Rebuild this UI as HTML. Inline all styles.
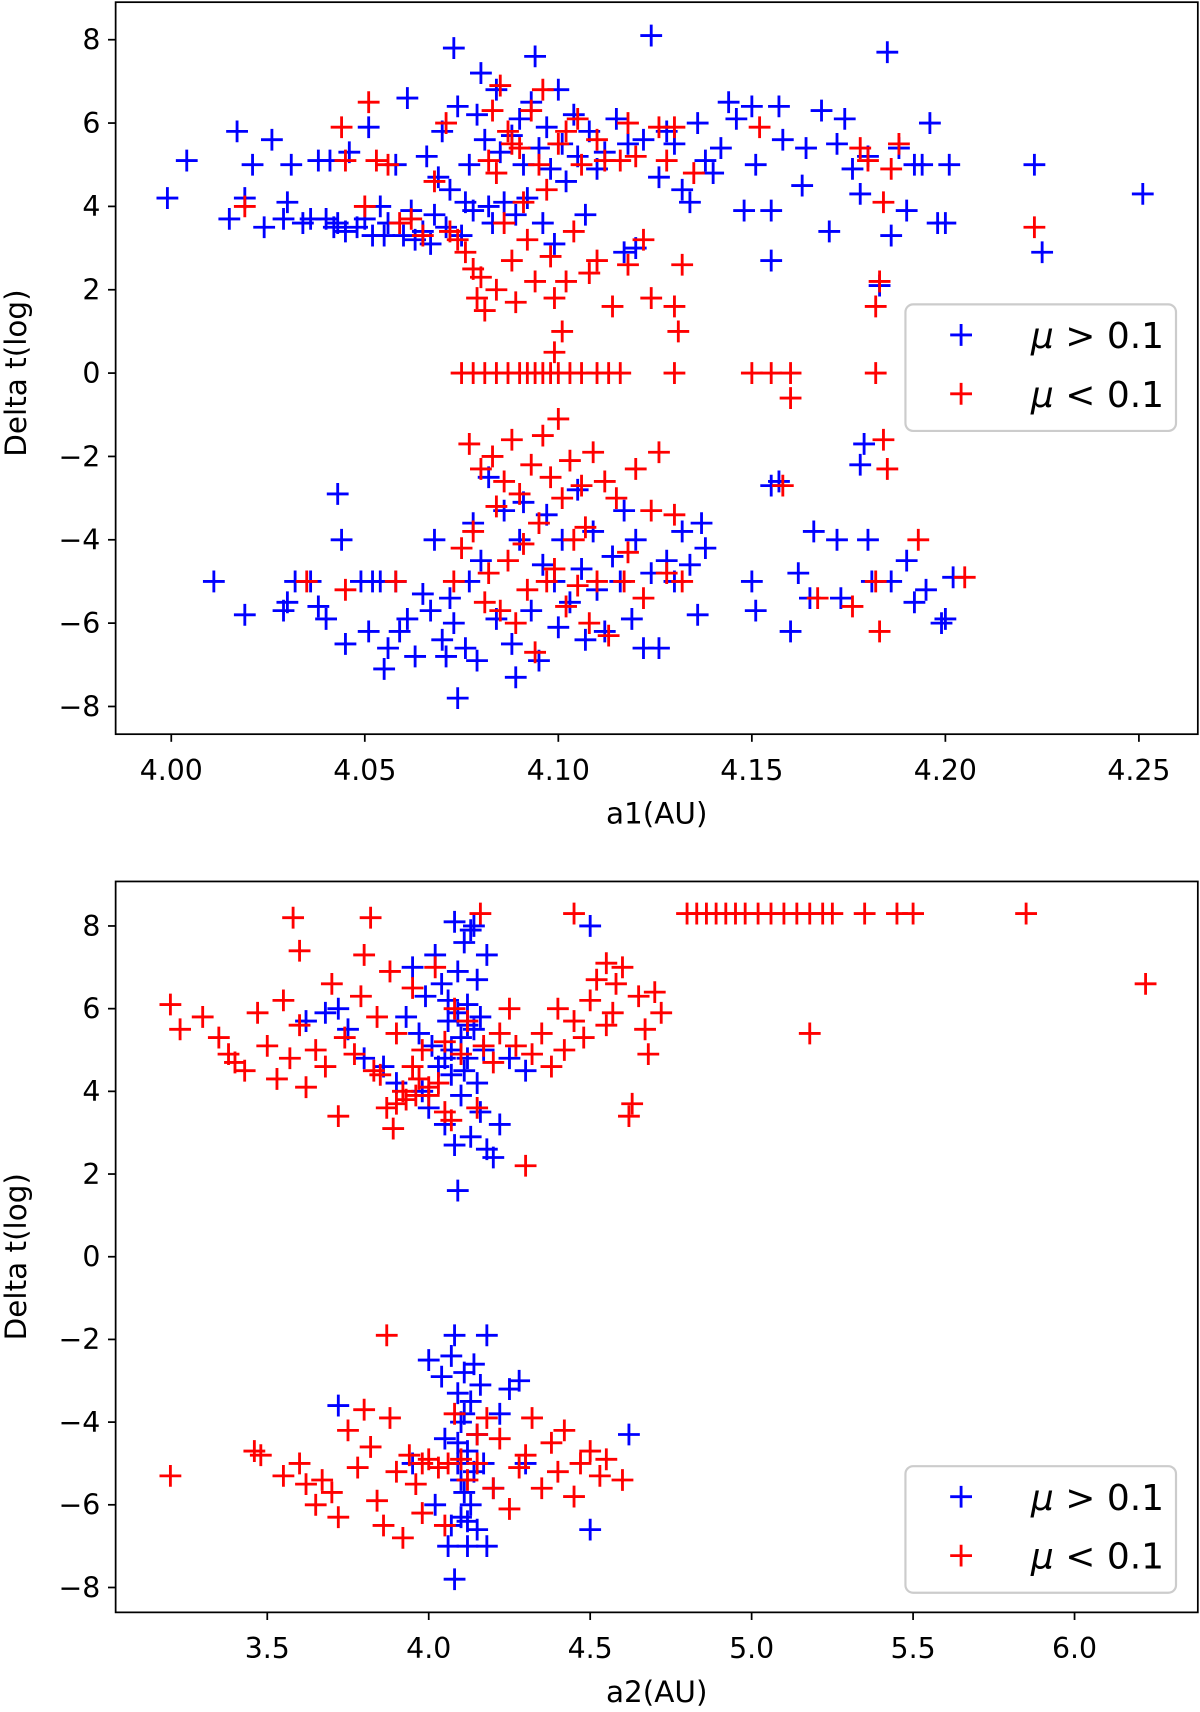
<!DOCTYPE html>
<html><head><meta charset="utf-8"><style>
body{margin:0;background:#fff}
svg{display:block;font-family:"DejaVu Sans","Liberation Sans",sans-serif}
</style></head><body>
<svg id="fig" width="1200" height="1712" viewBox="0 0 1200 1712" xmlns="http://www.w3.org/2000/svg">
<g transform="scale(1.090909)">
<g id="top"></g>
<g id="bot"></g>
</g>
</svg>
<script>
const topXTicks=[4.00,4.05,4.10,4.15,4.20,4.25];
const topXLabels=["4.00","4.05","4.10","4.15","4.20","4.25"];
const yTicks=[8,6,4,2,0,-2,-4,-6,-8];
const yLabels=["8","6","4","2","0","\u22122","\u22124","\u22126","\u22128"];
const botXTicks=[3.5,4.0,4.5,5.0,5.5,6.0];
const botXLabels=["3.5","4.0","4.5","5.0","5.5","6.0"];

const topBlue=[[3.999,4.2],[4.004,5.1],[4.015,3.7],[4.017,5.8],[4.019,4.2],[4.021,5.0],[4.024,3.5],[4.026,5.6],[4.029,3.7],[4.030,4.1],[4.031,5.0],[4.034,3.6],[4.036,3.7],[4.038,5.1],[4.040,3.7],[4.041,5.1],[4.042,3.5],[4.043,3.6],[4.045,3.4],[4.046,5.3],[4.048,3.5],[4.050,3.7],[4.051,5.9],[4.052,3.3],[4.054,4.0],[4.055,3.3],[4.056,3.6],[4.058,5.0],[4.060,3.3],[4.061,6.6],[4.062,3.9],[4.063,3.2],[4.065,3.4],[4.066,5.2],[4.067,3.1],[4.068,3.8],[4.069,4.7],[4.070,5.8],[4.071,3.5],[4.072,4.4],[4.073,7.8],[4.074,6.4],[4.075,3.3],[4.076,4.1],[4.077,5.0],[4.078,3.9],[4.079,6.2],[4.080,7.2],[4.081,5.6],[4.082,4.0],[4.083,3.6],[4.084,6.8],[4.085,5.3],[4.086,4.1],[4.088,5.7],[4.089,3.8],[4.090,6.1],[4.091,5.0],[4.092,4.2],[4.093,6.5],[4.094,7.6],[4.095,5.4],[4.096,3.6],[4.097,5.9],[4.098,4.9],[4.099,3.1],[4.100,6.8],[4.101,5.5],[4.102,4.6],[4.104,6.2],[4.105,5.2],[4.107,3.8],[4.108,5.8],[4.110,4.9],[4.112,5.3],[4.115,6.1],[4.117,2.9],[4.118,5.5],[4.120,3.0],[4.122,5.6],[4.124,8.1],[4.126,4.7],[4.128,5.8],[4.130,5.5],[4.132,4.4],[4.134,4.1],[4.136,6.0],[4.138,5.1],[4.140,4.8],[4.142,5.4],[4.144,6.5],[4.146,6.1],[4.148,3.9],[4.150,6.4],[4.151,5.0],[4.155,3.9],[4.157,6.4],[4.158,5.6],[4.163,4.5],[4.164,5.4],[4.168,6.3],[4.170,3.4],[4.172,5.5],[4.174,6.1],[4.176,4.9],[4.180,5.2],[4.183,2.1],[4.185,7.7],[4.186,3.3],[4.188,5.4],[4.190,3.9],[4.192,5.0],[4.194,5.0],[4.196,6.0],[4.198,3.6],[4.200,3.6],[4.201,5.0],[4.223,5.0],[4.225,2.9],[4.251,4.3],[4.178,4.3],[4.155,2.7],
[4.011,-5.0],[4.019,-5.8],[4.029,-5.7],[4.030,-5.5],[4.032,-5.0],[4.036,-5.0],[4.038,-5.6],[4.040,-5.9],[4.043,-2.9],[4.044,-4.0],[4.045,-6.5],[4.049,-5.0],[4.051,-6.2],[4.052,-5.0],[4.054,-5.0],[4.055,-7.1],[4.056,-6.6],[4.058,-5.0],[4.059,-6.2],[4.061,-5.9],[4.063,-6.8],[4.065,-5.3],[4.067,-5.7],[4.068,-4.0],[4.070,-6.4],[4.071,-6.8],[4.072,-5.4],[4.073,-6.0],[4.074,-7.8],[4.076,-6.6],[4.077,-5.0],[4.078,-3.6],[4.079,-6.9],[4.080,-4.5],[4.082,-2.5],[4.084,-5.9],[4.086,-3.3],[4.088,-6.5],[4.089,-7.3],[4.090,-4.0],[4.091,-3.1],[4.093,-5.7],[4.095,-6.9],[4.096,-4.6],[4.097,-3.4],[4.099,-5.0],[4.100,-6.1],[4.101,-4.0],[4.103,-5.5],[4.105,-2.8],[4.106,-4.7],[4.107,-6.4],[4.109,-3.8],[4.110,-5.2],[4.112,-6.2],[4.114,-4.4],[4.116,-5.0],[4.117,-3.3],[4.119,-5.9],[4.120,-4.0],[4.122,-6.6],[4.124,-4.8],[4.126,-6.6],[4.128,-4.5],[4.130,-5.0],[4.132,-3.8],[4.134,-4.6],[4.136,-5.8],[4.137,-3.6],[4.138,-4.2],[4.150,-5.0],[4.151,-5.7],[4.155,-2.7],[4.160,-6.2],[4.162,-4.8],[4.165,-5.4],[4.166,-3.8],[4.172,-4.0],[4.173,-5.4],[4.180,-4.0],[4.181,-5.0],[4.178,-2.2],[4.179,-1.7],[4.186,-5.0],[4.190,-4.5],[4.192,-5.5],[4.195,-5.2],[4.199,-6.0],[4.200,-5.9],[4.202,-4.9],[4.157,-2.6]];

const topRed=[[4.019,4.0],[4.044,5.9],[4.045,5.1],[4.050,4.0],[4.051,6.5],[4.053,5.1],[4.056,5.0],[4.059,3.6],[4.062,3.7],[4.065,3.3],[4.068,4.6],[4.071,6.0],[4.072,3.4],[4.074,3.2],[4.076,2.9],[4.078,2.5],[4.079,1.8],[4.080,2.3],[4.081,1.5],[4.082,5.1],[4.083,6.3],[4.084,2.0],[4.085,6.9],[4.086,3.6],[4.087,5.8],[4.088,2.7],[4.089,1.7],[4.090,5.4],[4.091,4.1],[4.092,3.2],[4.093,6.3],[4.094,2.2],[4.095,5.0],[4.096,6.8],[4.097,4.4],[4.098,2.8],[4.099,1.8],[4.100,5.5],[4.101,1.0],[4.102,2.2],[4.104,3.4],[4.105,6.1],[4.106,5.0],[4.108,2.4],[4.110,2.7],[4.112,5.1],[4.114,1.6],[4.116,5.1],[4.118,2.6],[4.120,5.2],[4.122,3.2],[4.124,1.8],[4.126,5.9],[4.128,5.1],[4.130,1.6],[4.131,1.0],[4.132,2.6],[4.135,4.8],[4.152,5.9],[4.178,5.4],[4.180,5.1],[4.182,1.6],[4.183,2.2],[4.184,4.1],[4.186,4.9],[4.188,5.5],[4.223,3.5],[4.130,5.9],[4.118,6.0],[4.088,5.5],[4.084,4.8],[4.102,5.8],[4.110,5.6],
[4.075,0],[4.078,0],[4.081,0],[4.084,0],[4.087,0],[4.090,0],[4.092,0],[4.094,0],[4.096,0],[4.098,0],[4.100,0],[4.103,0],[4.106,0],[4.110,0],[4.113,0],[4.116,0],[4.130,0],[4.150,0],[4.155,0],[4.160,0],[4.182,0],[4.160,-0.6],[4.099,0.5],
[4.035,-5.0],[4.045,-5.2],[4.058,-5.0],[4.073,-5.0],[4.075,-4.2],[4.077,-1.7],[4.078,-3.8],[4.080,-2.3],[4.081,-5.5],[4.082,-4.8],[4.083,-2.0],[4.084,-3.2],[4.085,-5.7],[4.086,-2.6],[4.087,-4.5],[4.088,-1.6],[4.089,-6.0],[4.090,-2.9],[4.091,-4.1],[4.092,-5.2],[4.093,-2.2],[4.094,-6.7],[4.095,-3.6],[4.096,-1.5],[4.097,-5.0],[4.098,-2.5],[4.099,-4.7],[4.100,-1.1],[4.101,-3.0],[4.102,-5.6],[4.103,-2.1],[4.104,-4.0],[4.105,-5.1],[4.106,-2.7],[4.107,-3.7],[4.108,-6.0],[4.109,-1.9],[4.110,-5.0],[4.112,-2.6],[4.113,-6.3],[4.115,-3.0],[4.117,-5.0],[4.118,-4.3],[4.120,-2.3],[4.122,-5.4],[4.124,-3.3],[4.126,-1.9],[4.128,-4.8],[4.130,-3.4],[4.132,-5.0],[4.158,-2.7],[4.167,-5.4],[4.176,-5.6],[4.183,-6.2],[4.184,-1.6],[4.185,-2.3],[4.193,-4.0],[4.205,-4.9],[4.182,-5.0]];

const botBlue=[[3.62,5.7],[3.68,5.9],[3.72,6.0],[3.75,5.5],[3.80,4.8],[3.86,4.6],[3.90,4.2],[3.93,5.8],[3.95,7.0],[3.97,5.4],[3.98,4.0],[3.99,6.3],[4.00,3.6],[4.01,5.1],[4.02,7.3],[4.03,4.6],[4.04,6.6],[4.05,3.2],[4.06,5.7],[4.07,4.4],[4.08,8.1],[4.08,2.7],[4.09,6.9],[4.10,5.3],[4.10,3.9],[4.11,7.6],[4.12,4.8],[4.12,6.1],[4.13,2.9],[4.14,5.5],[4.14,8.0],[4.15,4.2],[4.15,6.7],[4.16,3.5],[4.17,5.0],[4.18,7.3],[4.18,2.6],[4.20,2.4],[4.22,3.2],[4.25,4.8],[4.30,4.5],[4.50,8.0],[4.09,1.6],[4.13,7.9],[4.11,4.5],[4.09,5.9],[4.07,5.0],[4.12,5.6],[4.06,6.2],[4.16,5.8],[4.05,4.8],
[3.72,-3.6],[3.95,-5.0],[4.00,-2.5],[4.02,-6.0],[4.04,-2.9],[4.05,-4.4],[4.06,-7.0],[4.07,-6.5],[4.07,-2.4],[4.08,-1.9],[4.08,-7.8],[4.09,-5.0],[4.09,-3.3],[4.10,-6.3],[4.10,-4.0],[4.11,-5.7],[4.11,-2.8],[4.12,-4.7],[4.12,-7.0],[4.13,-3.5],[4.13,-6.0],[4.14,-5.2],[4.14,-2.6],[4.15,-4.3],[4.15,-6.6],[4.16,-3.1],[4.17,-5.0],[4.18,-1.9],[4.18,-7.0],[4.20,-5.6],[4.22,-3.8],[4.25,-3.2],[4.28,-3.0],[4.30,-5.0],[4.50,-6.6],[4.62,-4.3],[4.10,-5.4],[4.12,-6.4],[4.09,-4.5],[4.11,-3.8]];

const botRed=[[3.20,6.1],[3.23,5.5],[3.30,5.8],[3.35,5.3],[3.38,4.9],[3.40,4.7],[3.43,4.5],[3.47,5.9],[3.50,5.1],[3.53,4.3],[3.55,6.2],[3.57,4.8],[3.60,5.6],[3.62,4.1],[3.65,5.0],[3.68,4.6],[3.70,6.6],[3.72,3.4],[3.74,5.3],[3.77,4.9],[3.79,6.3],[3.80,7.3],[3.82,8.2],[3.84,5.8],[3.85,4.4],[3.87,3.6],[3.88,6.9],[3.89,3.1],[3.90,5.4],[3.92,4.0],[3.93,3.8],[3.95,6.5],[3.97,4.3],[3.98,5.0],[4.00,3.9],[4.02,7.0],[4.03,4.2],[4.05,5.2],[4.07,3.3],[4.08,6.0],[4.10,4.9],[4.12,5.7],[4.15,3.6],[4.16,8.3],[4.17,5.1],[4.20,4.7],[4.22,5.4],[4.25,6.0],[4.27,5.1],[4.30,2.2],[4.32,4.9],[4.35,5.4],[4.38,4.6],[4.40,6.0],[4.42,5.0],[4.45,5.7],[4.48,5.3],[4.50,6.2],[4.52,6.7],[4.55,7.1],[4.57,5.9],[4.60,7.0],[4.62,3.4],[4.63,3.7],[4.65,6.3],[4.67,5.5],[4.68,4.9],[4.70,6.4],[4.72,5.9],[4.55,5.6],[4.58,6.6],[4.45,8.3],[3.60,7.4],[3.58,8.2],[3.95,4.6],[4.05,3.5],[3.83,4.5],[3.90,3.7],[4.00,4.1],[3.96,3.9],
[4.80,8.3],[4.83,8.3],[4.86,8.3],[4.89,8.3],[4.92,8.3],[4.95,8.3],[4.98,8.3],[5.02,8.3],[5.06,8.3],[5.10,8.3],[5.14,8.3],[5.18,8.3],[5.22,8.3],[5.25,8.3],[5.35,8.3],[5.45,8.3],[5.50,8.3],[5.85,8.3],[6.22,6.6],[5.18,5.4],
[3.20,-5.3],[3.46,-4.7],[3.48,-4.8],[3.55,-5.3],[3.60,-5.0],[3.62,-5.5],[3.65,-6.0],[3.67,-5.4],[3.70,-5.7],[3.72,-6.3],[3.75,-4.2],[3.78,-5.1],[3.80,-3.7],[3.82,-4.6],[3.84,-5.9],[3.86,-6.5],[3.87,-1.9],[3.88,-3.9],[3.90,-5.2],[3.92,-6.8],[3.94,-4.8],[3.96,-5.5],[3.98,-6.2],[4.00,-4.9],[4.03,-5.1],[4.05,-6.5],[4.08,-3.8],[4.10,-4.9],[4.12,-5.4],[4.15,-4.3],[4.18,-3.9],[4.20,-5.6],[4.22,-4.4],[4.25,-6.1],[4.28,-5.1],[4.30,-4.8],[4.32,-3.9],[4.35,-5.6],[4.38,-4.5],[4.40,-5.2],[4.42,-4.2],[4.45,-5.8],[4.47,-5.0],[4.50,-4.7],[4.53,-5.3],[4.60,-5.4],[4.55,-4.9],[4.15,-5.0],[4.06,-5.0],[3.98,-5.0]];

const NS="http://www.w3.org/2000/svg";
function mk(parent,tag,attrs){const e=document.createElementNS(NS,tag);for(const k in attrs)e.setAttribute(k,attrs[k]);parent.appendChild(e);return e;}
function plus(g,cx,cy,color,name){
  const p=mk(g,"path",{d:`M${cx-10},${cy}H${cx+10}M${cx},${cy-10}V${cy+10}`,stroke:color,"stroke-width":2.6,fill:"none"});
  
  
}
function panel(g,box,xs,ys,xTicks,xLabels,blue,red,xTitle,legY){
  const fr=mk(g,"rect",{x:box.l,y:box.t,width:box.r-box.l,height:box.b-box.t,fill:"none",stroke:"#000","stroke-width":1.6});
  
  
  xTicks.forEach((v,i)=>{const x=xs(v);
    mk(g,"line",{x1:x,x2:x,y1:box.b,y2:box.b+7,stroke:"#000","stroke-width":1.6});
    const t=mk(g,"text",{x:x,y:box.b+42,"text-anchor":"middle","font-size":26,fill:"#000"});t.textContent=xLabels[i];
    
    
  });
  yTicks.forEach((v,i)=>{const y=ys(v);
    mk(g,"line",{x1:box.l-7,x2:box.l,y1:y,y2:y,stroke:"#000","stroke-width":1.6});
    const t=mk(g,"text",{x:box.l-14,y:y+9,"text-anchor":"end","font-size":26,fill:"#000"});t.textContent=yLabels[i];
    
    
  });
  const xt=mk(g,"text",{x:(box.l+box.r)/2,y:box.b+82,"text-anchor":"middle","font-size":27,fill:"#000"});xt.textContent=xTitle;
  
  
  const cy=(ys(0));
  const yt=mk(g,"text",{x:0,y:0,transform:`translate(24,${cy}) rotate(-90)`,"text-anchor":"middle","font-size":27,fill:"#000"});yt.textContent="Delta t(log)";
  
  
  blue.forEach(p=>plus(g,xs(p[0]),ys(p[1]),"#0000ff","point-mu-gt-0.1"));
  red.forEach(p=>plus(g,xs(p[0]),ys(p[1]),"#ff0000","point-mu-lt-0.1"));
  const lg=mk(g,"g",{});
  
  
  mk(lg,"rect",{x:830,y:legY,width:248,height:116,rx:7,fill:"#fff","fill-opacity":0.85,stroke:"#ccc","stroke-width":2});
  [["#0000ff","&gt;",28],["#ff0000","&lt;",82]].forEach((e,i)=>{
    plus(lg,881,legY+e[2],e[0],i?"legend-marker-red":"legend-marker-blue");
    const t=mk(lg,"text",{x:945,y:legY+e[2]+12,"font-size":33,fill:"#000"});
    t.innerHTML=`<tspan font-style="italic">\u03bc</tspan> ${e[1]} 0.1`;
    
    
  });
}
const topBox={l:106,r:1098,t:2,b:673};
panel(document.getElementById("top"),topBox,v=>157+(v-4.0)/0.05*177.4,v=>342-v*38.2,topXTicks,topXLabels,topBlue,topRed,"a1(AU)",279);
const botBox={l:106,r:1098,t:808,b:1478};
panel(document.getElementById("bot"),botBox,v=>393+(v-4.0)/0.5*148,v=>1152-v*37.9,botXTicks,botXLabels,botBlue,botRed,"a2(AU)",1344);
</script>
</body></html>
